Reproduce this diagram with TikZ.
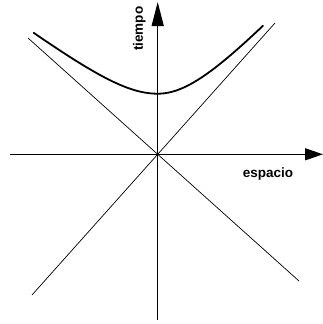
\documentclass[tikz,border=0pt]{standalone}
\usepackage{fontspec}
\setmainfont{Liberation Sans}
\usetikzlibrary{arrows.meta}
\tikzset{
  eje/.style     = {line width=1.3pt},
  asintota/.style = {line width=0.7pt},
  curva/.style   = {line width=1.8pt, line cap=round},
  rotulo/.style  = {font=\fontsize{13.5}{15}\selectfont\bfseries, inner sep=0pt},
}

\begin{document}
\begin{tikzpicture}[x=1pt, y=-1pt]
    \useasboundingbox (0,0) rectangle (323,324);
    \coordinate (O) at (157.7,154.3);

    % ejes
    \coordinate (izq) at (10,154.3);
    \coordinate (der) at (323,154.3);
    \coordinate (abajo) at (157.7,320);
    \coordinate (arriba) at (157.7,2);
    \draw[eje, -{Triangle[length=18pt, width=12pt]}] (izq) -- (der);
    \draw[eje, -{Triangle[length=24pt, width=12pt]}] (abajo) -- (arriba);

    % cono de luz
    \coordinate (a1) at (28,38);
    \coordinate (a2) at (299,281);
    \coordinate (b1) at (32,295);
    \coordinate (b2) at (275,23);
    \draw[asintota] (a1) -- (O) -- (a2);
    \draw[asintota] (b1) -- (O) -- (b2);

    % hiperbola
    \draw[curva] plot[domain=-124:0, samples=60, smooth]
      ({157.7+\x},{154.3-20-10*sqrt(4.06*4.06+(0.075*\x)*(0.075*\x))})
      -- plot[domain=0:105.3, samples=60, smooth]
      ({157.7+\x},{154.3-10*sqrt(6.06*6.06+(0.1077*\x)*(0.1077*\x))});

    \node[rotulo] (espacio) at (268,174) {espacio};
    \node[rotulo, rotate=90] (tiempo) at (139.5,28.7) {tiempo};
  \end{tikzpicture}
\end{document}
